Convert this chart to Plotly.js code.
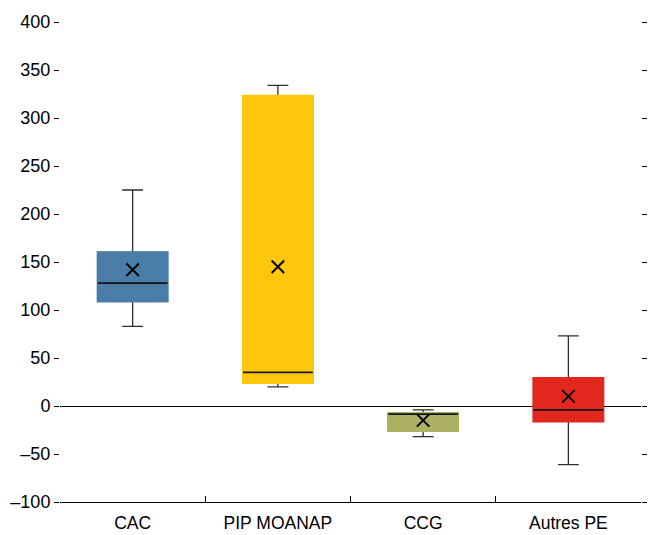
<!DOCTYPE html>
<html>
<head>
<meta charset="utf-8">
<script src="https://cdn.plot.ly/plotly-3.0.1.min.js"></script>
<style>html,body{margin:0;padding:0;background:#fff;}#chart{width:649px;height:535px;}</style>
</head>
<body>
<div id="chart"></div>
<script>
// ---- data ----
const categories = ['CAC', 'PIP MOANAP', 'CCG', 'Autres PE'];
const lowerWhisker = [83, 20, -32, -61];
const q1Values = [109, 24, -26, -16];
const medianValues = [128, 35, -8.5, -4];
const q3Values = [160, 323, -7.5, 29];
const upperWhisker = [225, 334, -4, 73];
const meanValues = [142, 145, -15, 10];
const boxColors = ['#4a7ea8', '#fdc70c', '#adb163', '#e2281e'];
const yTickVals = [-100, -50, 0, 50, 100, 150, 200, 250, 300, 350, 400];
const yTickText = ['\u2013100', '\u201350', '0', '50', '100', '150', '200', '250', '300', '350', '400'];

const FONT = 'Liberation Sans Narrow, Arial Narrow, Liberation Sans, Arial, sans-serif';
const BOXW = 0.48;
const traces = [];

// Layer 1: full boxes with whiskers (dark lines)
categories.forEach((c, i) => {
  traces.push({
    type: 'box', x: [c], xaxis: 'x', yaxis: 'y',
    q1: [q1Values[i]], median: [medianValues[i]], q3: [q3Values[i]],
    lowerfence: [lowerWhisker[i]], upperfence: [upperWhisker[i]],
    fillcolor: boxColors[i], line: {color: '#2e2e2e', width: 1.3},
    width: BOXW, whiskerwidth: 0.3, boxpoints: false,
    hoverinfo: 'skip', showlegend: false
  });
});
// Layer 2: cover boxes in fill colour (hide outline)
categories.forEach((c, i) => {
  traces.push({
    type: 'box', x: [c], xaxis: 'x', yaxis: 'y2',
    q1: [q1Values[i]], median: [medianValues[i]], q3: [q3Values[i]],
    lowerfence: [q1Values[i]], upperfence: [q3Values[i]],
    fillcolor: boxColors[i], line: {color: boxColors[i], width: 2.2},
    width: BOXW, whiskerwidth: 0.3, boxpoints: false,
    hoverinfo: 'skip', showlegend: false
  });
});
// Layer 3: median lines
categories.forEach((c, i) => {
  const m = medianValues[i];
  traces.push({
    type: 'box', x: [c], xaxis: 'x', yaxis: 'y2',
    q1: [m], median: [m], q3: [m], lowerfence: [m], upperfence: [m],
    fillcolor: 'rgba(0,0,0,0)', line: {color: '#141414', width: 1.7},
    width: BOXW, whiskerwidth: 0, boxpoints: false,
    hoverinfo: 'skip', showlegend: false
  });
});
// Means
traces.push({
  type: 'scatter', mode: 'markers', x: categories, y: meanValues, xaxis: 'x', yaxis: 'y2',
  marker: {symbol: 'x-thin-open', size: 12.5, color: '#000', line: {color: '#000', width: 2}},
  hoverinfo: 'skip', showlegend: false
});

const yRange = [-100, 400];
const layout = {
  width: 649, height: 535,
  margin: {l: 60, r: 8, t: 22, b: 33},
  paper_bgcolor: '#fff', plot_bgcolor: '#fff',
  font: {family: FONT, size: 18, color: '#000'},
  boxmode: 'overlay',
  showlegend: false,
  xaxis: {
    type: 'category', categoryorder: 'array', categoryarray: categories,
    range: [-0.5, 3.5], fixedrange: true,
    showline: true, linecolor: '#000', linewidth: 1,
    ticks: 'inside', tickson: 'boundaries', ticklen: 6, tickcolor: '#000', tickwidth: 1,
    ticklabelstandoff: 5,
    showgrid: false, zeroline: false,
    tickfont: {family: FONT, size: 17.5, color: '#000'}
  },
  yaxis: {
    range: yRange, fixedrange: true,
    tickvals: yTickVals, ticktext: yTickText,
    ticks: 'outside', ticklen: 5, tickcolor: '#000', tickwidth: 1,
    mirror: 'ticks', showline: false, showgrid: false,
    zeroline: true, zerolinecolor: '#000', zerolinewidth: 1,
    tickfont: {family: FONT, size: 18, color: '#000'}
  },
  yaxis2: {
    range: yRange, fixedrange: true, overlaying: 'y', visible: false
  }
};

Plotly.newPlot('chart', traces, layout, {displayModeBar: false, staticPlot: true});
</script>
</body>
</html>
